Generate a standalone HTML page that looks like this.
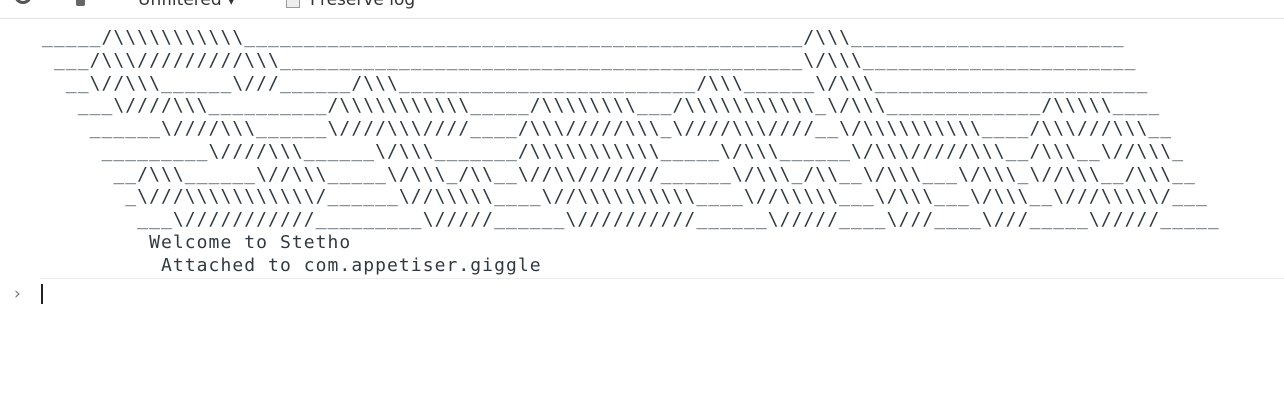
<!DOCTYPE html>
<html><head><meta charset="utf-8"><style>
html,body{margin:0;padding:0;width:1284px;height:400px;background:#fff;overflow:hidden;position:relative;font-family:"DejaVu Sans","Liberation Sans",sans-serif}
.tb{position:absolute;left:0;top:0;width:1284px;height:18px;border-bottom:1px solid #e3e3e3;overflow:hidden}
.tb span{position:absolute;top:-10px;font-size:17px;color:#333}
pre{position:absolute;left:42px;top:27px;margin:0;font-family:"DejaVu Sans Mono","Liberation Mono",monospace;font-size:18px;letter-spacing:1.06px;line-height:22.75px;color:#303942}
.sep{position:absolute;left:40px;right:0;top:278px;height:1px;background:#ececec}
.pr{position:absolute;left:14px;top:284px;font-size:17px;color:#777}
.caret{position:absolute;left:41px;top:284px;width:2px;height:20px;background:#222}
</style></head><body>
<div class="tb">
<span style="left:14px;top:-14px;width:18px;height:18px;border:3px solid #555;border-radius:50%;box-sizing:border-box"></span>
<span style="left:76px;top:-6px;width:9px;height:12px;background:#666;border-radius:2px"></span>
<span style="left:138px">Unfiltered ▾</span>
<span style="left:286px;top:-6px;width:12px;height:12px;border:1px solid #999;background:#eee"></span>
<span style="left:310px">Preserve log</span>
</div>
<pre>_____/\\\\\\\\\\\_______________________________________________/\\\_______________________
 ___/\\\/////////\\\____________________________________________\/\\\_______________________
  __\//\\\______\///______/\\\_________________________/\\\______\/\\\_______________________
   ___\////\\\__________/\\\\\\\\\\\_____/\\\\\\\\___/\\\\\\\\\\\_\/\\\_____________/\\\\\____
    ______\////\\\______\////\\\////____/\\\/////\\\_\////\\\////__\/\\\\\\\\\\____/\\\///\\\__
     _________\////\\\______\/\\\_______/\\\\\\\\\\\_____\/\\\______\/\\\/////\\\__/\\\__\//\\\_
      __/\\\______\//\\\_____\/\\\_/\\__\//\\///////______\/\\\_/\\__\/\\\___\/\\\_\//\\\__/\\\__
       _\///\\\\\\\\\\\/______\//\\\\\____\//\\\\\\\\\\____\//\\\\\___\/\\\___\/\\\__\///\\\\\/___
        ___\///////////_________\/////______\//////////______\/////____\///____\///_____\/////_____
         Welcome to Stetho
          Attached to com.appetiser.giggle</pre>
<div class="sep"></div>
<div class="pr">›</div>
<div class="caret"></div>
</body></html>
